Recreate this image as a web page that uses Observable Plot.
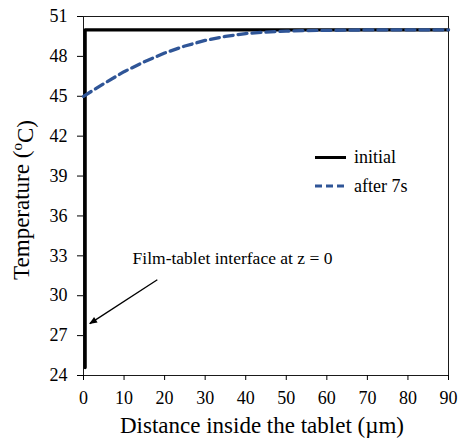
<!DOCTYPE html>
<html>
<head>
<meta charset="utf-8">
<script src="https://cdn.jsdelivr.net/npm/d3@7"></script>
<script src="https://cdn.jsdelivr.net/npm/@observablehq/plot@0.6"></script>
<style>
  html, body { margin: 0; padding: 0; background: #fff; }
  #chart { width: 458px; height: 439px; }
</style>
</head>
<body>
<div id="chart"></div>
<script>
// Axis ticks
const xTicks = [0, 10, 20, 30, 40, 50, 60, 70, 80, 90];
const yTicks = [24, 27, 30, 33, 36, 39, 42, 45, 48, 51];

// Initial temperature profile (step at the film-tablet interface)
const initialZ = [0.4, 0.4, 90];
const initialT = [24.6, 50, 50];

// Temperature profile after 7 s
const afterZ = [0, 5, 10, 15, 20, 25, 30, 35, 40, 45, 50, 55, 60, 70, 80, 90];
const afterT = [45.0, 45.95, 46.85, 47.6, 48.25, 48.78, 49.2, 49.5, 49.72, 49.83, 49.9, 49.94, 49.96, 49.99, 50, 50];

// Series names and colours
const seriesNames = ["initial", "after 7s"];
const seriesColors = ["#000000", "#2f5597"];

// Annotation text and arrow (data coordinates)
const noteText = ["Film-tablet interface at z = 0"];
const noteTextZ = [12.1];
const noteTextT = [32.8];
const arrowFrom = [18.2, 31.2];
const arrowTo = [1.55, 27.9];

const initialRows = initialZ.map((z, i) => ({z, t: initialT[i]}));
const afterRows = afterZ.map((z, i) => ({z, t: afterT[i]}));
const noteRows = noteText.map((label, i) => ({label, z: noteTextZ[i], t: noteTextT[i]}));
const arrowRows = [{z1: arrowFrom[0], t1: arrowFrom[1], z2: arrowTo[0], t2: arrowTo[1]}];

const font = "'Liberation Serif', 'Times New Roman', serif";

const chart = Plot.plot({
  width: 458,
  height: 439,
  marginLeft: 83,
  marginRight: 10,
  marginTop: 16,
  marginBottom: 64,
  style: {fontFamily: font, fontSize: "18px", color: "#000", background: "#fff", overflow: "visible"},
  x: {domain: [0, 90], label: null},
  y: {domain: [24, 51], label: null},
  marks: [
    Plot.frame({stroke: "#1a1a1a", strokeWidth: 1}),
    Plot.axisX({ticks: xTicks, tickSize: 5, tickPadding: 11, fontSize: 18, label: null, stroke: "#000"}),
    Plot.axisY({ticks: yTicks, tickSize: 6, tickPadding: 10, fontSize: 18, label: null, stroke: "#000"}),
    Plot.line(initialRows, {x: "z", y: "t", stroke: seriesColors[0], strokeWidth: 3.3}),
    Plot.line(afterRows, {x: "z", y: "t", stroke: seriesColors[1], strokeWidth: 3.3, strokeDasharray: "9,5"}),
    Plot.text(noteRows, {x: "z", y: "t", text: "label", textAnchor: "start", fontSize: 17.5, fill: "#000"}),
    Plot.link(arrowRows, {x1: "z1", y1: "t1", x2: "z2", y2: "t2", stroke: "#000", strokeWidth: 1.3})
  ]
});

document.getElementById("chart").appendChild(chart);

const svg = d3.select(chart);

// Filled triangular arrowhead on the annotation link
svg.append("defs").append("marker")
  .attr("id", "head")
  .attr("viewBox", "0 -5 10 10")
  .attr("refX", 9)
  .attr("refY", 0)
  .attr("markerUnits", "userSpaceOnUse")
  .attr("markerWidth", 10)
  .attr("markerHeight", 8)
  .attr("orient", "auto")
  .append("path")
  .attr("d", "M0,-4L10,0L0,4Z")
  .attr("fill", "#000");
svg.selectAll("g[aria-label='link'] path").attr("marker-end", "url(#head)");

// Axis titles
svg.append("text")
  .attr("x", 262)
  .attr("y", 433)
  .attr("text-anchor", "middle")
  .style("font-family", font)
  .style("font-size", "23px")
  .attr("fill", "#000")
  .text("Distance inside the tablet (\u00b5m)");

const yTitle = svg.append("text")
  .attr("transform", "translate(29,200) rotate(-90)")
  .attr("text-anchor", "middle")
  .style("font-family", font)
  .style("font-size", "23px")
  .attr("fill", "#000");
yTitle.append("tspan").text("Temperature (");
yTitle.append("tspan").attr("dy", "-0.45em").style("font-size", "15px").text("o");
yTitle.append("tspan").attr("dy", "0.45em").text("C)");

// Legend
const legend = svg.append("g")
  .attr("text-anchor", "start")
  .style("font-family", font)
  .style("font-size", "18px");
const legendY = [157.5, 186];
seriesNames.forEach((name, i) => {
  legend.append("line")
    .attr("x1", 315).attr("x2", 346)
    .attr("y1", legendY[i]).attr("y2", legendY[i])
    .attr("stroke", seriesColors[i])
    .attr("stroke-width", 3)
    .attr("stroke-dasharray", i === 1 ? "7,4" : null);
  legend.append("text")
    .attr("x", 354)
    .attr("y", legendY[i])
    .attr("dy", "0.32em")
    .attr("text-anchor", "start")
    .attr("fill", "#000")
    .text(name);
});
</script>
</body>
</html>
